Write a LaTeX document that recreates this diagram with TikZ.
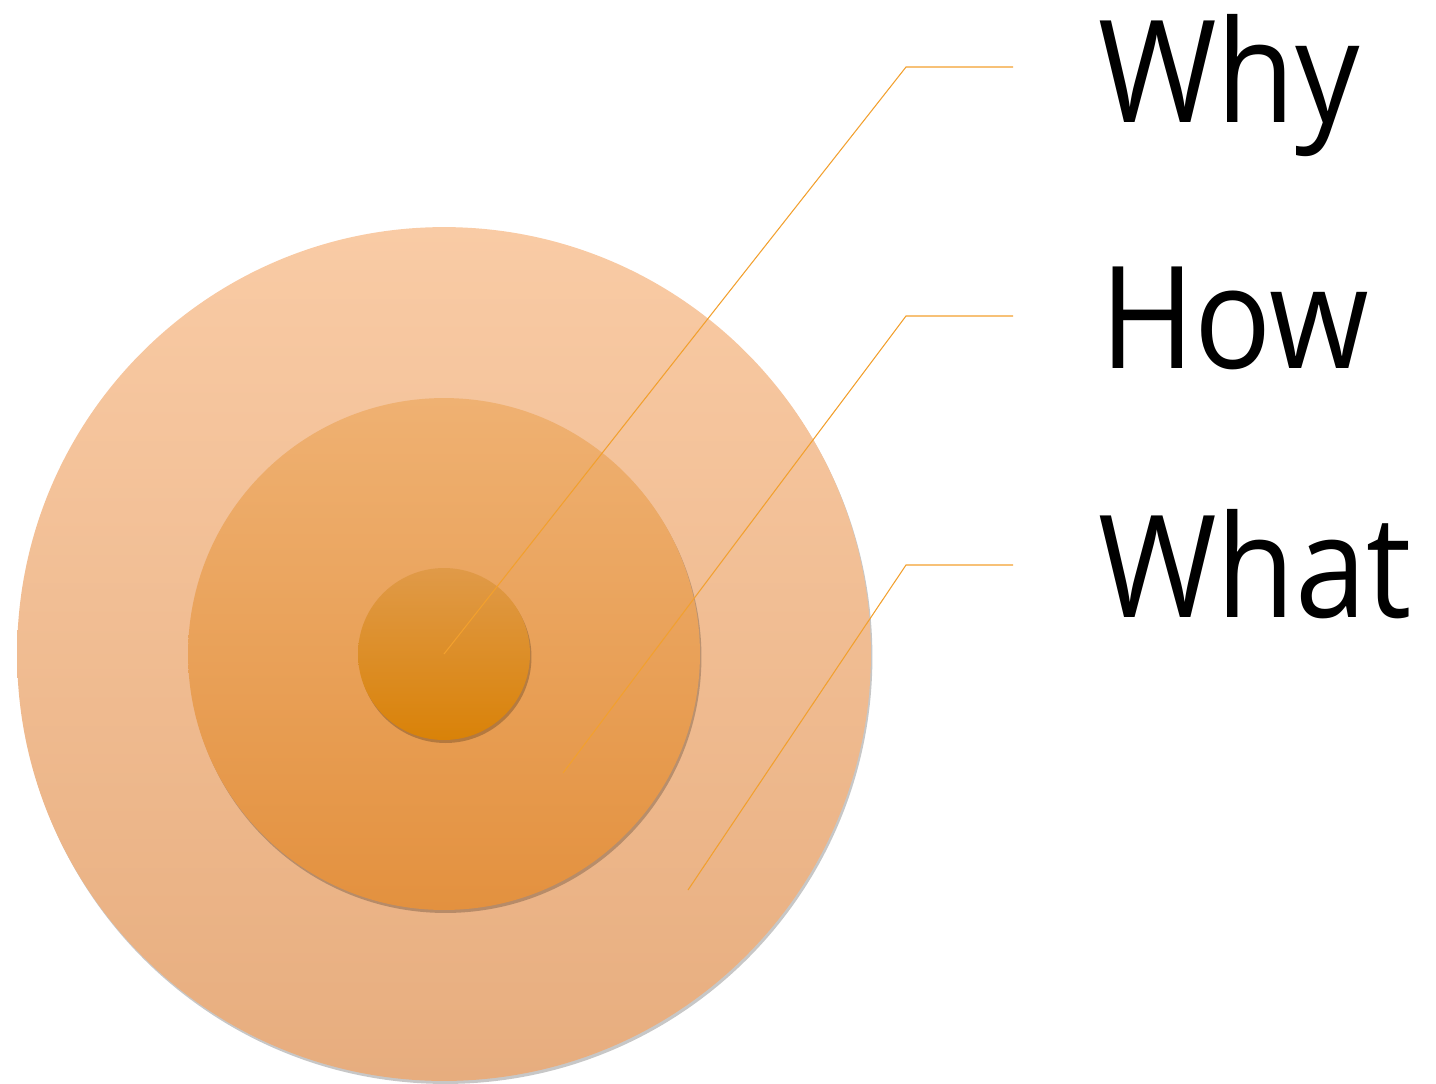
\documentclass[tikz,border=0pt]{standalone}
\usepackage{fontspec}
\setmainfont[FakeStretch=0.9]{Open Sans}
\usetikzlibrary{shadows}
\definecolor{outertop}{HTML}{F9CBA5}
\definecolor{outermid}{HTML}{F7BF92}
\definecolor{outerbot}{HTML}{E7AD7E}
\definecolor{midtop}{HTML}{EFB172}
\definecolor{midmid}{HTML}{F4A95B}
\definecolor{midbot}{HTML}{E3913F}
\definecolor{coretop}{HTML}{E09A48}
\definecolor{coremid}{HTML}{E9931A}
\definecolor{corebot}{HTML}{D98208}
\definecolor{leadline}{HTML}{F2A02E}
\tikzset{
    ring/.style={circle, inner sep=0pt, outer sep=0pt, drop shadow={shadow xshift=0.03cm, shadow yshift=-0.06cm, opacity=0.22, fill=black}},
    leader/.style={color=leadline, line width=0.6pt},
    word/.style={anchor=base west, inner sep=0pt, font=\fontsize{81}{81}\selectfont}
}
\begin{document}
\begin{tikzpicture}[x=0.02cm, y=-0.02cm]

\useasboundingbox (0,0) rectangle (1436,1083);

% circles
\node[ring, minimum size=17.08cm, top color=outertop, middle color=outermid, bottom color=outerbot] (whatring) at (444,654) {};
\node[ring, minimum size=10.24cm, top color=midtop, middle color=midmid, bottom color=midbot] (howring) at (444,654) {};
\node[ring, minimum size=3.44cm, top color=coretop, middle color=coremid, bottom color=corebot] (whyring) at (444,654) {};

% labels
\node[word] (why) at (1098,122) {Why};
\node[word] (how) at (1100,368) {How};
\node[word] (what) at (1098,617) {What};

% leader lines
\coordinate (whystart) at (444,654);
\coordinate (howstart) at (563,773);
\coordinate (whatstart) at (688,890);
\coordinate (whyend) at (1013,67);
\coordinate (howend) at (1013,316);
\coordinate (whatend) at (1013,565);

\draw[leader] (whystart) -- (906,67) -- (whyend);
\draw[leader] (howstart) -- (906,316) -- (howend);
\draw[leader] (whatstart) -- (906,565) -- (whatend);

\end{tikzpicture}
\end{document}
